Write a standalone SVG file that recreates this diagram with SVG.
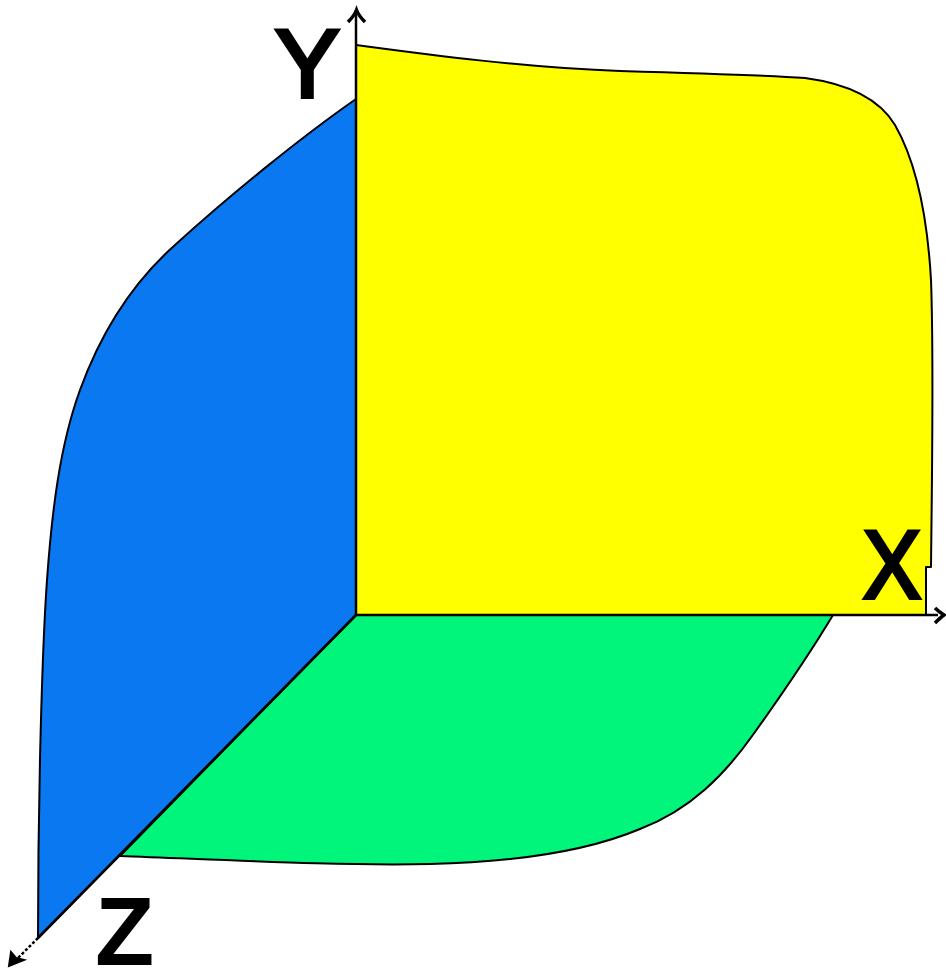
<svg xmlns="http://www.w3.org/2000/svg" width="946" height="971" viewBox="0 0 946 971">
<style>
.face{stroke:#000;stroke-width:2;stroke-linejoin:round}
.axis{fill:none;stroke:#000;stroke-width:2.5}
.head{fill:none;stroke:#000;stroke-width:3.5}
.lbl{font-family:"Liberation Sans",Arial,sans-serif;font-size:97px;fill:#000}
.heavy{stroke:#000;stroke-width:4}
</style>
<rect width="946" height="971" fill="#fff"/>
<g id="face-green"><path class="face" fill="#00f57a" d="M356 615L833 615C815 645 785 690 755 732C725 775 690 810 640 829C590 850 520 862 430 864C340 866 230 860 120 856Z"/></g>
<g id="face-blue"><path class="face" fill="#0a78f0" d="M356 99C300 138 230 195 175 245C130 285 100 335 80 390C60 445 52 510 47 580C42 650 38 800 38 938L356 615Z"/></g>
<g id="face-yellow"><path class="face" fill="#ffff00" d="M356 45C430 55 530 68 620 71C690 73 760 75 805 78C850 84 880 100 895 125C915 160 927 210 931 280C934 360 932 470 931 567L926 567L926 615L356 615Z"/></g>
<g id="connectors">
<path class="axis" d="M356 615L356 10"/>
<path class="head" d="M348 22C352 18 355 14 356.500 10C358 14 361 18 365 22"/>
<path class="axis" d="M356 615L938 615"/>
<path class="head" d="M935 608C938 611 941 613 944 615C941 617 938 620 935 623"/>
<path class="axis" stroke-width="1.500" d="M356 615L38 938"/>
<path class="axis" stroke-dasharray="3 2" d="M38 938L14 962"/>
<path d="M9 966L11 952L16 958L24 960Z" fill="#000" stroke="#000" stroke-width="2"/>
</g>
<g id="label-y"><text class="lbl heavy" x="275" y="97">Y</text></g>
<g id="label-x"><text class="lbl heavy" x="863" y="598" textLength="58" lengthAdjust="spacingAndGlyphs">X</text></g>
<g id="label-z"><text class="lbl" x="95" y="965" font-weight="700">Z</text></g>
</svg>
